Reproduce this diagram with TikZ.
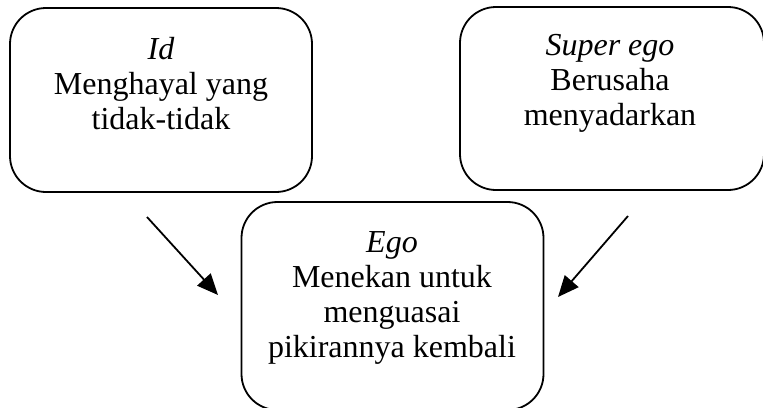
\documentclass[tikz,border=0pt]{standalone}
\usepackage{fontspec}
\setmainfont{Liberation Serif}
\usetikzlibrary{arrows.meta}
\begin{document}
\begin{tikzpicture}[x=1pt,y=-1pt,
  box/.style={draw=black,line width=1.8pt,rounded corners=36pt,inner sep=0pt},
  txt/.style={anchor=north,inner sep=0pt,align=center,font=\fontsize{32}{35}\selectfont},
  arr/.style={line width=1.8pt,-{Triangle[length=21pt,width=18pt]}}]
\useasboundingbox (0,0) rectangle (763,407);
\fill[white] (0,0) rectangle (763,407);
% boxes
\node[box,minimum width=302pt,minimum height=184pt] (idbox) at (161,100) {};
\node[box,minimum width=304pt,minimum height=183pt] (sebox) at (612,98.5) {};
\node[box,minimum width=302pt,minimum height=208pt] (egobox) at (392.5,306) {};
% texts
\node[txt] (idtxt) at (161,37) {\textit{Id}\\Menghayal yang\\tidak-tidak};
\node[txt] (setxt) at (610,34) {\textit{Super ego}\\Berusaha\\menyadarkan};
\node[txt] (egotxt) at (392,231) {\textit{Ego}\\Menekan untuk\\menguasai\\pikirannya kembali};
% arrows
\coordinate (a1s) at (147,217);
\coordinate (a1e) at (218,295);
\coordinate (a2s) at (628,216);
\coordinate (a2e) at (558,297);
\draw[arr] (a1s) -- (a1e);
\draw[arr] (a2s) -- (a2e);
\end{tikzpicture}
\end{document}
